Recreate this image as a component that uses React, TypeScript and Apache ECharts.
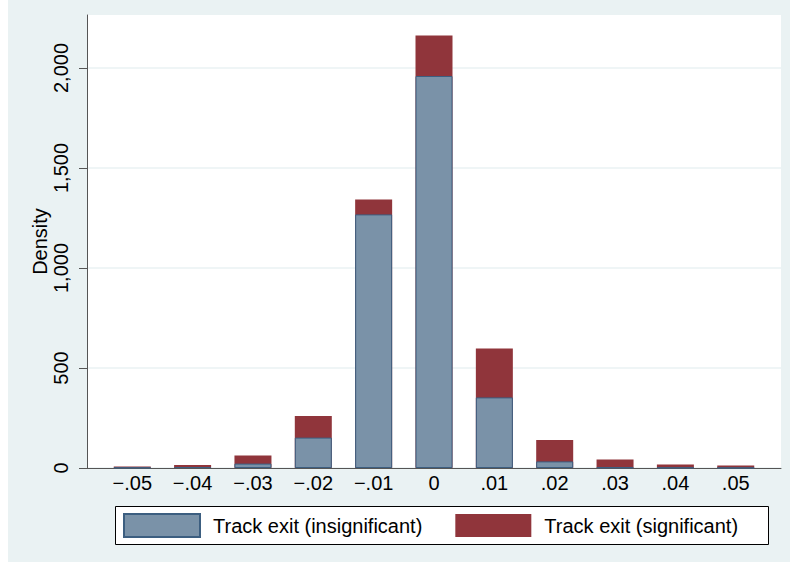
import React, { useEffect, useRef } from "react";
import * as echarts from "echarts";

const binCenters = [-0.05, -0.04, -0.03, -0.02, -0.01, 0, 0.01, 0.02, 0.03, 0.04, 0.05];
const xTickLabels = ["\u2212.05", "\u2212.04", "\u2212.03", "\u2212.02", "\u2212.01", "0", ".01", ".02", ".03", ".04", ".05"];
const insignificant = [2, 5, 22, 152, 1268, 1960, 353, 33, 3, 2, 1];
const significant = [6, 10, 41, 108, 75, 203, 245, 107, 40, 16, 12];
const yTicks = [0, 500, 1000, 1500, 2000];
const seriesNames = ["Track exit (insignificant)", "Track exit (significant)"];

const FONT = "Liberation Sans, Arial, Helvetica, sans-serif";

export default function App() {
  const ref = useRef<HTMLDivElement>(null);
  useEffect(() => {
    if (!ref.current) return;
    const chart = echarts.init(ref.current, undefined, { renderer: "svg" });
    const fmtY = (v: number) => v.toLocaleString("en-US");
    // stacked total = insignificant + significant (red drawn behind, blue in front)
    const totals = insignificant.map((v, i) => v + significant[i]);
    chart.setOption({
      animation: false,
      backgroundColor: "#ffffff",
      textStyle: { fontFamily: FONT },
      graphic: [
        {
          type: "rect",
          z: -100,
          silent: true,
          shape: { x: 8, y: 0, width: 782, height: 562 },
          style: { fill: "#EAF2F3" },
        },
        {
          type: "rect",
          z: -50,
          silent: true,
          shape: { x: 115.5, y: 506.5, width: 653, height: 38 },
          style: { fill: "#ffffff", stroke: "#000", lineWidth: 1 },
        },
      ],
      legend: {
        left: 123,
        top: 513,
        itemWidth: 76,
        itemHeight: 23,
        itemGap: 33,
        icon: "rect",
        textStyle: { fontFamily: FONT, fontSize: 20, color: "#000", padding: [0, 0, 0, 8] },
        padding: 0,
        data: seriesNames,
      },
      grid: {
        left: 87,
        right: 9,
        top: 15,
        bottom: 95,
        show: true,
        backgroundColor: "#ffffff",
        borderWidth: 0,
        containLabel: false,
        outerBoundsMode: "none",
      },
      xAxis: {
        type: "value",
        min: -0.0575,
        max: 0.0575,
        splitLine: { show: false },
        axisTick: { show: false },
        axisLine: { show: true, onZero: false, lineStyle: { color: "#555", width: 1 } },
        axisLabel: {
          customValues: binCenters,
          margin: 5,
          fontSize: 20,
          color: "#000",
          fontFamily: FONT,
          formatter: (v: number) => {
            let best = 0;
            for (let i = 0; i < binCenters.length; i++) {
              if (Math.abs(binCenters[i] - v) < Math.abs(binCenters[best] - v)) best = i;
            }
            return xTickLabels[best];
          },
        },
      },
      yAxis: {
        type: "value",
        min: 0,
        max: 2265,
        interval: 500,
        name: "Density",
        nameLocation: "middle",
        nameGap: 37,
        nameMoveOverlap: false,
        nameRotate: 90,
        nameTextStyle: { fontSize: 20, color: "#000", fontFamily: FONT },
        axisLine: { show: true, onZero: false, lineStyle: { color: "#555", width: 1 } },
        axisTick: { show: true, length: 8, lineStyle: { color: "#555" }, customValues: yTicks },
        splitLine: { show: true, lineStyle: { color: "#EAF2F3", width: 1.5 } },
        axisLabel: {
          customValues: yTicks,
          rotate: 90,
          margin: 16,
          fontSize: 20,
          color: "#000",
          fontFamily: FONT,
          formatter: (v: number) => fmtY(v),
        },
      },
      series: [
        {
          name: seriesNames[1],
          type: "bar",
          barWidth: 37,
          barGap: "-100%",
          z: 2,
          data: binCenters.map((c, i) => [c, totals[i]]),
          itemStyle: { color: "#90353B", borderColor: "#90353B", borderWidth: 0 },
        },
        {
          name: seriesNames[0],
          type: "bar",
          barWidth: 37,
          barGap: "-100%",
          z: 3,
          data: binCenters.map((c, i) => [c, insignificant[i]]),
          itemStyle: { color: "#7A92A8", borderColor: "#3C5E80", borderWidth: 1 },
        },
      ],
    });
    return () => chart.dispose();
  }, []);
  return (
    <div
      ref={ref}
      style={{ position: "absolute", left: 0, top: 0, width: 790, height: 563 }}
    />
  );
}
